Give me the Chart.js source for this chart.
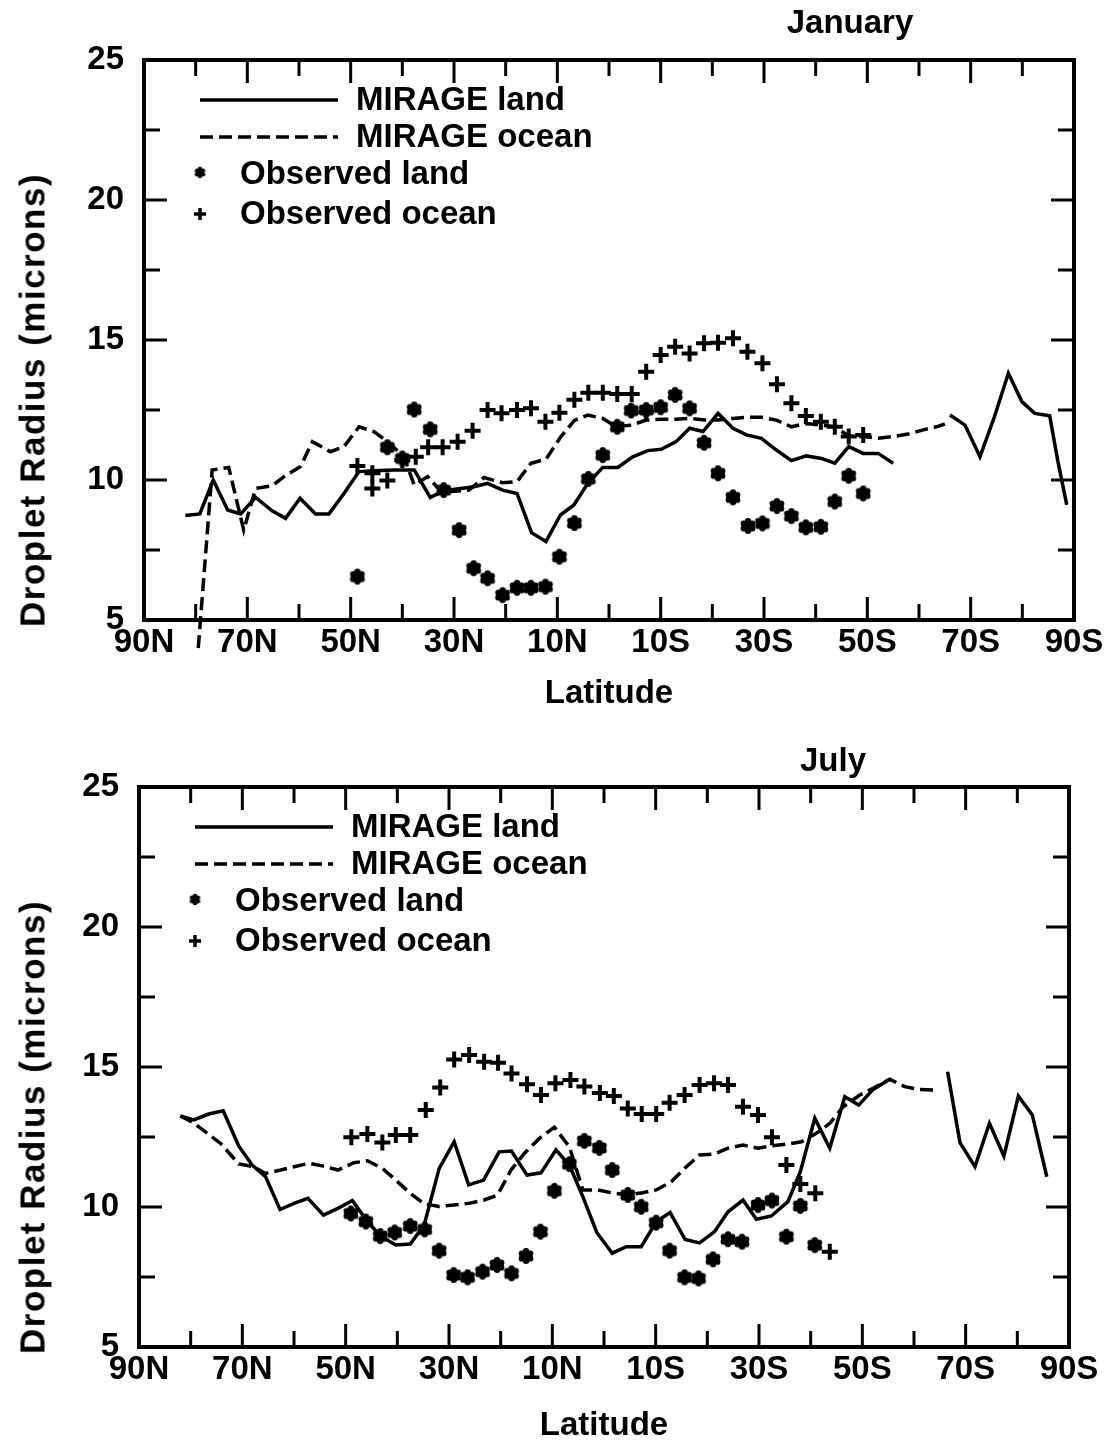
<!DOCTYPE html>
<html>
<head>
<meta charset="utf-8">
<script src="https://cdn.jsdelivr.net/npm/chart.js@4.4.1/dist/chart.umd.min.js"></script>
<style>
  html, body { margin: 0; padding: 0; background: #fff; }
  body { width: 1115px; height: 1443px; position: relative; overflow: hidden;
         font-family: 'Liberation Sans', Arial, sans-serif; font-weight: bold; color: #000; }
  .panel { position: absolute; width: 1115px; height: 716px; }
  .txt { position: absolute; white-space: nowrap; line-height: 1; }
  .month { font-size: 33px; transform: translateX(-50%); }
  .xtitle { font-size: 33px; transform: translateX(-50%); }
  .ytitle { font-size: 35px; letter-spacing: 1.5px; transform: translate(-50%, -50%) rotate(-90deg); }
</style>
</head>
<body>
<div class="panel" style="left:0;top:0"><canvas id="janChart" width="1115" height="716"></canvas></div>
<div class="panel" style="left:-5px;top:727px"><canvas id="julChart" width="1115" height="716"></canvas></div>

<div class="txt month" style="left:850px;top:5px">January</div>
<div class="txt xtitle" style="left:609px;top:675px">Latitude</div>
<div class="txt ytitle" style="left:32px;top:400px">Droplet Radius (microns)</div>

<div class="txt month" style="left:833px;top:743px">July</div>
<div class="txt xtitle" style="left:604px;top:1407px">Latitude</div>
<div class="txt ytitle" style="left:32px;top:1127px">Droplet Radius (microns)</div>

<script>
// tick labels
const latTickValues = [90, 70, 50, 30, 10, -10, -30, -50, -70, -90];
const latTickLabels = ['90N', '70N', '50N', '30N', '10N', '10S', '30S', '50S', '70S', '90S'];
const radiusTicks = [5, 10, 15, 20, 25];
const seriesNames = ['MIRAGE land', 'MIRAGE ocean', 'Observed land', 'Observed ocean'];

// January (latitude: + north, - south; radius in microns, null = no data)
const janLandLat = [82.0, 79.2, 76.6, 73.8, 71.3, 68.4, 65.2, 62.6, 59.8, 56.8, 54.2, 51.3, 48.4, 45.5, 41.6, 37.7,
  34.6, 31.9, 28.7, 26.1, 23.5, 20.6, 17.8, 15.0, 12.2, 9.4, 6.8, 4.1, 1.2, -1.7, -4.6, -7.5, -10.1, -13.0, -15.6,
  -18.2, -21.1, -24.0, -26.6, -29.5, -32.4, -35.3, -38.2, -41.1, -43.7, -46.4, -49.2, -52.1, -55.0, -60.0,
  -66.0, -68.9, -71.8, -74.6, -77.3, -79.9, -82.4, -85.3, -86.9, -88.6];
const janLandVal = [8.73, 8.79, 10.0, 8.93, 8.79, 9.38, 8.90, 8.63, 9.35, 8.79, 8.79, 9.52, 10.30, 10.33, 10.36, 10.36,
  9.38, 9.62, 9.70, 9.76, 9.88, 9.64, 9.52, 8.12, 7.80, 8.75, 9.11, 9.88, 10.45, 10.45, 10.83, 11.05, 11.10, 11.37, 11.85,
  11.73, 12.38, 11.85, 11.61, 11.49, 11.07, 10.69, 10.86, 10.77, 10.60, 11.19, 10.95, 10.95, 10.60, null,
  12.32, 11.96, 10.83, 12.26, 13.81, 12.80, 12.38, 12.29, 10.65, 9.11];

const janOceanLat = [79.5, 76.8, 73.6, 70.7, 68.4, 65.2, 62.9, 59.7, 57.4, 53.9, 51.3, 48.4, 45.5, 42.6, 39.7, 37.7,
  35.1, 32.5, 29.8, 27.1, 24.2, 20.6, 17.8, 15.1, 12.2, 9.3, 6.7, 4.1, 1.2, -1.4, -4.3, -7.2, -10.1, -13.0, -15.9,
  -18.5, -21.1, -24.0, -26.6, -29.5, -32.4, -35.3, -38.2, -41.1, -43.7, -46.4, -49.2, -52.1, -55.0, -57.9, -60.8,
  -63.4, -65.0];
const janOceanVal = [4.0, 10.36, 10.45, 8.21, 9.70, 9.79, 10.12, 10.48, 11.37, 11.01, 11.19, 11.90, 11.73, 11.33, 10.83, 9.82,
  10.12, 9.58, 9.60, 9.64, 10.09, 9.90, 9.94, 10.60, 10.74, 11.55, 12.13, 12.32, 12.20, 11.90, 11.96, 12.14, 12.17, 12.17, 12.20,
  12.14, 12.14, 12.20, 12.24, 12.24, 12.14, 11.90, 12.02, 11.96, 11.90, 11.57, 11.55, 11.49, 11.55, 11.64, 11.79,
  11.90, 12.0];

const janObsLandLat = [48.7, 42.9, 40.0, 37.7, 34.6, 32.0, 29.0, 26.2, 23.5, 20.6, 17.8, 15.1, 12.3, 9.6, 6.7, 4.0, 1.2,
  -1.6, -4.3, -7.2, -10.0, -12.8, -15.6, -18.4, -21.1, -24.0, -26.9, -29.7, -32.5, -35.3, -38.1, -41.0, -43.7, -46.4, -49.2];
const janObsLandVal = [6.55, 11.17, 10.77, 12.52, 11.81, 9.64, 8.21, 6.85, 6.49, 5.89, 6.15, 6.15, 6.19, 7.26, 8.46, 10.04, 10.89,
  11.90, 12.48, 12.50, 12.60, 13.04, 12.56, 11.33, 10.24, 9.38, 8.36, 8.45, 9.07, 8.71, 8.31, 8.33, 9.23, 10.15, 9.52];

const janObsOceanLat = [48.7, 45.8, 45.8, 42.9, 40.0, 37.4, 35.0, 32.2, 29.3, 26.4, 23.5, 20.8, 17.8, 15.1, 12.3, 9.6, 6.7,
  4.0, 1.2, -1.6, -4.4, -7.2, -7.2, -10.0, -12.8, -15.6, -18.4, -21.1, -24.0, -26.8, -29.7, -32.5, -35.3, -38.1, -41.0,
  -43.7, -46.4, -49.2];
const janObsOceanVal = [10.50, 10.24, 9.70, 9.98, 10.71, 10.83, 11.17, 11.17, 11.37, 11.76, 12.50, 12.38, 12.50, 12.56, 12.08, 12.40, 12.87,
  13.12, 13.12, 13.07, 13.07, 12.44, 13.87, 14.46, 14.76, 14.52, 14.88, 14.90, 15.06, 14.58, 14.17, 13.42, 12.74, 12.29, 12.08,
  11.90, 11.55, 11.61];

// July
const julLandLat = [82.0, 79.4, 76.5, 73.7, 70.7, 68.1, 65.5, 62.7, 60.0, 57.3, 54.3, 51.5, 48.7, 45.8, 43.1, 40.3,
  37.5, 34.8, 31.9, 29.0, 26.2, 23.3, 20.3, 17.9, 14.9, 12.2, 9.3, 6.7, 4.1, 1.4, -1.6, -4.3, -7.2, -10.1, -12.8,
  -15.7, -18.5, -21.4, -24.0, -26.9, -29.5, -32.4, -35.6, -38.0, -40.8, -43.7, -46.6, -49.3, -52.1, -55.3, -60.0,
  -66.5, -68.9, -71.8, -74.6, -77.4, -80.2, -82.9, -85.7];
const julLandVal = [13.25, 13.11, 13.32, 13.44, 12.18, 11.50, 11.08, 9.91, 10.13, 10.31, 9.71, 9.95, 10.23, 9.48, 8.94, 8.64,
  8.68, 9.36, 11.38, 12.33, 10.79, 10.96, 11.97, 12.00, 11.14, 11.22, 12.04, 11.50, 10.37, 9.09, 8.35, 8.58, 8.58, 9.47, 9.80,
  8.84, 8.72, 9.12, 9.83, 10.25, 9.56, 9.68, 10.19, 11.26, 13.17, 12.10, 13.94, 13.64, 14.20, 14.56, null,
  14.83, 12.30, 11.44, 12.99, 11.82, 13.96, 13.29, 11.08];

const julOceanLat = [82.0, 79.4, 74.2, 70.7, 67.8, 65.5, 62.6, 60.0, 57.1, 54.3, 51.5, 48.4, 45.8, 42.9, 40.3, 37.5,
  34.8, 31.9, 29.0, 26.1, 23.2, 20.6, 18.0, 15.4, 12.5, 9.6, 6.7, 4.1, 1.2, -1.7, -4.6, -7.5, -10.1, -13.0, -15.6,
  -18.5, -21.4, -24.0, -26.9, -29.8, -32.4, -35.6, -38.2, -41.1, -43.7, -46.3, -49.5, -52.1, -55.3, -58.2, -60.8, -63.7];
const julOceanVal = [13.25, 13.0, 12.27, 11.54, 11.44, 11.2, 11.32, 11.44, 11.56, 11.46, 11.32, 11.58, 11.65, 11.38, 10.96, 10.49,
  10.11, 10.02, 10.07, 10.13, 10.25, 10.43, 11.32, 11.92, 12.45, 12.85, 12.15, 10.61, 10.61, 10.50, 10.43, 10.51, 10.61, 10.90, 11.38,
  11.86, 11.89, 12.10, 12.21, 12.10, 12.18, 12.25, 12.33, 12.63, 12.99, 13.58, 14.0, 14.24, 14.56, 14.30, 14.20, 14.18];

const julObsLandLat = [49.0, 46.1, 43.3, 40.5, 37.5, 34.7, 31.9, 29.1, 26.4, 23.5, 20.7, 17.9, 15.1, 12.3, 9.6, 6.7, 3.8,
  0.9, -1.6, -4.6, -7.2, -10.1, -12.7, -15.6, -18.3, -21.1, -24.0, -26.7, -29.8, -32.5, -35.3, -38.0, -40.8];
const julObsLandVal = [9.77, 9.48, 8.96, 9.09, 9.32, 9.20, 8.44, 7.57, 7.49, 7.69, 7.93, 7.63, 8.25, 9.12, 10.58, 11.53, 12.36,
  12.11, 11.32, 10.43, 10.01, 9.44, 8.44, 7.49, 7.45, 8.13, 8.85, 8.76, 10.07, 10.23, 8.94, 10.04, 8.64];

const julObsOceanLat = [48.9, 45.8, 42.9, 40.3, 37.5, 34.5, 31.7, 29.0, 26.1, 23.2, 20.5, 17.9, 14.9, 12.2, 9.4, 6.5, 3.8,
  0.8, -1.9, -4.6, -7.3, -10.1, -12.7, -15.6, -18.5, -21.3, -24.0, -26.9, -29.8, -32.5, -35.3, -38.0, -40.9, -43.7];
const julObsOceanVal = [12.49, 12.61, 12.30, 12.57, 12.57, 13.46, 14.27, 15.27, 15.43, 15.19, 15.15, 14.77, 14.38, 14.0, 14.42, 14.54, 14.30,
  14.07, 13.96, 13.52, 13.32, 13.32, 13.72, 14.0, 14.36, 14.42, 14.36, 13.58, 13.29, 12.49, 11.50, 10.82, 10.49, 8.40];

const FONT = "'Liberation Sans', Arial, sans-serif";
const pts = (lat, val) => lat.map((x, i) => ({ x: x, y: val[i] }));

// flower-shaped filled marker for observed land
function makeFlower(size, lobeR, ringR, coreR) {
  const c = document.createElement('canvas');
  c.width = c.height = size;
  const g = c.getContext('2d');
  g.fillStyle = '#000';
  g.translate(size / 2, size / 2);
  g.beginPath();
  g.arc(0, 0, coreR, 0, Math.PI * 2);
  g.fill();
  for (let k = 0; k < 6; k++) {
    const a = -Math.PI / 2 + k * Math.PI / 3;
    g.beginPath();
    g.arc(Math.cos(a) * ringR, Math.sin(a) * ringR, lobeR, 0, Math.PI * 2);
    g.fill();
  }
  return c;
}
const starBig = makeFlower(18, 3.2, 4.8, 5.5);
const starSmall = makeFlower(13, 2.3, 3.4, 4);

// box, inward ticks and the legend inside the plot
const framePlugin = {
  id: 'frame',
  afterDraw(chart) {
    const { ctx, chartArea: a, scales: { x, y } } = chart;
    ctx.save();
    ctx.strokeStyle = '#000';
    ctx.fillStyle = '#000';
    ctx.lineCap = 'butt';
    ctx.lineWidth = 3;
    ctx.beginPath();
    for (let v = -80; v <= 80; v += 10) {
      const px = x.getPixelForValue(v);
      const len = latTickValues.includes(v) ? 23 : 16;
      ctx.moveTo(px, a.bottom); ctx.lineTo(px, a.bottom - len);
      ctx.moveTo(px, a.top); ctx.lineTo(px, a.top + len);
    }
    for (let v = 7.5; v < 25; v += 2.5) {
      const py = y.getPixelForValue(v);
      const len = radiusTicks.includes(v) ? 23 : 16;
      ctx.moveTo(a.left, py); ctx.lineTo(a.left + len, py);
      ctx.moveTo(a.right, py); ctx.lineTo(a.right - len, py);
    }
    ctx.stroke();
    ctx.lineWidth = 4;
    ctx.strokeRect(a.left, a.top, a.right - a.left, a.bottom - a.top);

    // legend
    const rows = [40, 77, 114, 154];
    const lx0 = a.left + 56, lx1 = a.left + 194;
    ctx.font = 'bold 33px ' + FONT;
    ctx.textBaseline = 'middle';
    ctx.lineWidth = 3.5;
    ctx.beginPath();
    ctx.moveTo(lx0, a.top + rows[0]); ctx.lineTo(lx1, a.top + rows[0]);
    ctx.stroke();
    ctx.setLineDash([13, 6]);
    ctx.beginPath();
    ctx.moveTo(lx0, a.top + rows[1]); ctx.lineTo(lx1, a.top + rows[1]);
    ctx.stroke();
    ctx.setLineDash([]);
    ctx.drawImage(starSmall, lx0 - 6.5, a.top + rows[2] - 8);
    ctx.lineWidth = 3.5;
    ctx.beginPath();
    ctx.moveTo(lx0 - 6, a.top + rows[3]); ctx.lineTo(lx0 + 6, a.top + rows[3]);
    ctx.moveTo(lx0, a.top + rows[3] - 6); ctx.lineTo(lx0, a.top + rows[3] + 6);
    ctx.stroke();
    ctx.fillText(seriesNames[0], a.left + 212, a.top + rows[0] + 1);
    ctx.fillText(seriesNames[1], a.left + 212, a.top + rows[1] + 1);
    ctx.fillText(seriesNames[2], a.left + 96, a.top + rows[2] + 1);
    ctx.fillText(seriesNames[3], a.left + 96, a.top + rows[3] + 1);
    ctx.restore();
  }
};

function makeChart(id, land, ocean, obsLand, obsOcean) {
  new Chart(document.getElementById(id), {
    type: 'scatter',
    data: {
      datasets: [
        { label: seriesNames[0], data: land, showLine: true, borderColor: '#000', borderWidth: 3.5,
          pointRadius: 0, spanGaps: false, tension: 0 },
        { label: seriesNames[1], data: ocean, showLine: true, borderColor: '#000', borderWidth: 3.5,
          borderDash: [13, 6], pointRadius: 0, spanGaps: false, tension: 0, clip: false },
        { label: seriesNames[2], data: obsLand, showLine: false, pointStyle: starBig, pointRadius: 9 },
        { label: seriesNames[3], data: obsOcean, showLine: false, pointStyle: 'cross', pointRadius: 8,
          borderColor: '#000', borderWidth: 4 }
      ]
    },
    options: {
      responsive: false,
      animation: false,
      events: [],
      layout: { padding: { left: 0, right: 41, top: 60, bottom: 0 } },
      plugins: { legend: { display: false }, tooltip: { enabled: false } },
      scales: {
        x: {
          type: 'linear', min: -90, max: 90, reverse: true,
          grid: { display: false, drawTicks: false },
          border: { display: false },
          afterBuildTicks: s => { s.ticks = latTickValues.map(v => ({ value: v })); },
          afterFit: s => { s.height = 96; },
          ticks: {
            autoSkip: false, maxRotation: 0, padding: 3, color: '#000',
            font: { family: FONT, size: 33, weight: 'bold' },
            callback: v => latTickLabels[latTickValues.indexOf(v)]
          }
        },
        y: {
          type: 'linear', min: 5, max: 25,
          grid: { display: false, drawTicks: false },
          border: { display: false },
          afterBuildTicks: s => { s.ticks = radiusTicks.map(v => ({ value: v })); },
          afterFit: s => { s.width = 144; },
          ticks: {
            padding: 20, color: '#000',
            font: { family: FONT, size: 33, weight: 'bold' },
            callback: v => String(v)
          }
        }
      }
    },
    plugins: [framePlugin]
  });
}

makeChart('janChart', pts(janLandLat, janLandVal), pts(janOceanLat, janOceanVal),
  pts(janObsLandLat, janObsLandVal), pts(janObsOceanLat, janObsOceanVal));
makeChart('julChart', pts(julLandLat, julLandVal), pts(julOceanLat, julOceanVal),
  pts(julObsLandLat, julObsLandVal), pts(julObsOceanLat, julObsOceanVal));
</script>
</body>
</html>
